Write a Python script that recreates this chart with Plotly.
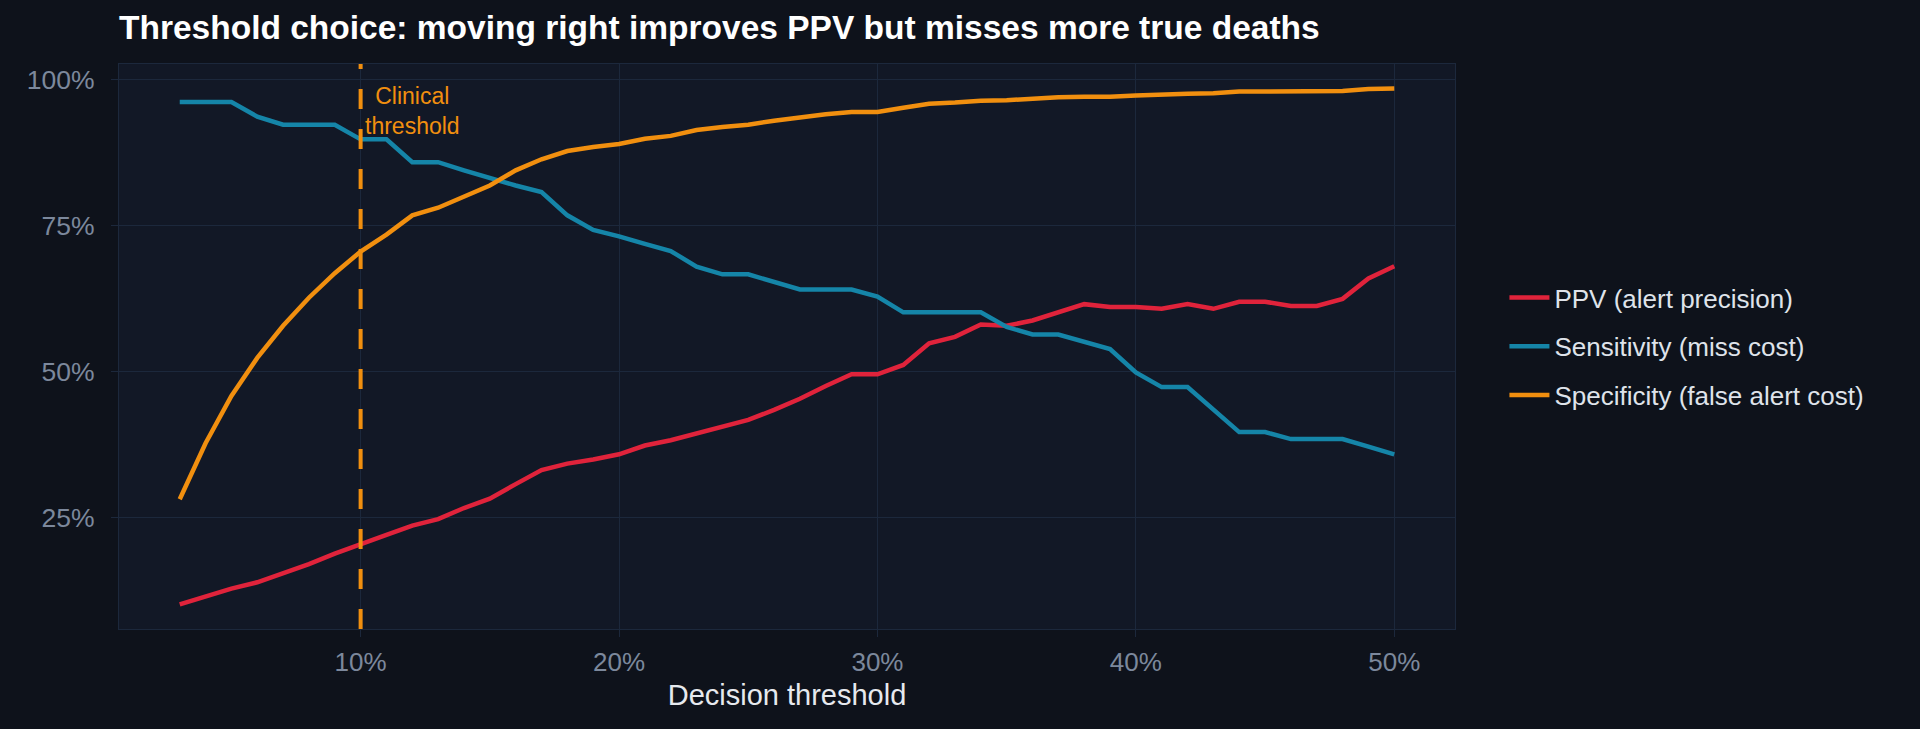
import plotly.graph_objects as go

thresholds = list(range(3, 51))  # decision threshold, %
ppv = [10.2, 11.55, 12.9, 14.0, 15.5, 17.1, 18.9, 20.4, 22.1, 23.7, 24.8, 26.7, 28.3, 30.8, 33.2, 34.3,
       35.0, 35.9, 37.4, 38.3, 39.5, 40.5, 41.8, 43.5, 45.4, 47.6, 49.6, 49.6, 51.2, 54.9, 56.0, 58.1,
       57.9, 58.8, 60.3, 61.6, 61.1, 61.1, 60.8, 61.6, 60.8, 62.0, 62.0, 61.3, 61.3, 62.5, 66.0, 68.1]
sensitivity = [96.2, 96.2, 96.2, 93.7, 92.3, 92.3, 92.3, 89.8, 89.8, 85.9, 85.9, 84.5, 83.1, 81.9, 80.8, 76.8,
               74.3, 73.2, 71.9, 70.7, 68.0, 66.7, 66.7, 65.4, 64.1, 64.1, 64.1, 62.9, 60.2, 60.2, 60.2, 60.2,
               57.7, 56.4, 56.4, 55.2, 53.9, 49.9, 47.4, 47.4, 43.5, 39.7, 39.7, 38.5, 38.5, 38.5, 37.2, 35.9]
specificity = [28.2, 37.8, 45.9, 52.4, 57.9, 62.7, 66.9, 70.6, 73.5, 76.8, 78.1, 80.1, 81.9, 84.5, 86.4, 87.8,
               88.5, 89.0, 89.9, 90.4, 91.4, 91.9, 92.3, 93.0, 93.6, 94.1, 94.5, 94.5, 95.2, 95.9, 96.1, 96.4,
               96.5, 96.8, 97.0, 97.1, 97.1, 97.3, 97.5, 97.6, 97.7, 98.0, 98.0, 98.0, 98.0, 98.1, 98.4, 98.5]
series_names = ["PPV (alert precision)", "Sensitivity (miss cost)", "Specificity (false alert cost)"]
series_colors = ["#e0233b", "#1585a8", "#f18f0f"]
x_ticks = [10, 20, 30, 40, 50]
x_ticktext = ["10%", "20%", "30%", "40%", "50%"]
y_ticks = [25, 50, 75, 100]
y_ticktext = ["25%", "50%", "75%", "100%"]
clinical_threshold = 10

FONT = "Liberation Sans, Arial, sans-serif"
GRID = "#1c283c"

fig = go.Figure()
for name, vals, col in zip(series_names, [ppv, sensitivity, specificity], series_colors):
    fig.add_trace(go.Scatter(x=thresholds, y=vals, mode="lines", name=name, legendgroup=name,
                             line=dict(color=col, width=4.5)))

fig.add_shape(type="line", xref="x", yref="paper", x0=clinical_threshold, x1=clinical_threshold,
              y0=0, y1=1, line=dict(color="#f18f0f", width=4, dash="20px,20px"), layer="above")
fig.add_annotation(x=12, y=94.6, xref="x", yref="y", text="Clinical<br>threshold", showarrow=False,
                   xanchor="center", yanchor="middle", align="center",
                   font=dict(family=FONT, size=23, color="#f18f0f"))

fig.update_layout(
    width=1920, height=729,
    margin=dict(l=119, r=465, t=64, b=100),
    paper_bgcolor="#0e121b", plot_bgcolor="#121826",
    font=dict(family=FONT, color="#dfe3ea"),
    title=dict(text="<b>Threshold choice: moving right improves PPV but misses more true deaths</b>",
               x=119 / 1920, xanchor="left", xref="container", y=1 - 27 / 729, yanchor="middle",
               font=dict(family=FONT, size=33.5, color="#ffffff")),
    legend=dict(x=1.037, xanchor="left", y=0.5, yanchor="middle", bgcolor="rgba(0,0,0,0)",
                font=dict(family=FONT, size=26, color="#dfe3ea"), tracegroupgap=12, itemwidth=40),
    showlegend=True,
)
fig.update_xaxes(range=[0.65, 52.35], tickvals=x_ticks, ticktext=x_ticktext, showgrid=True,
                 gridcolor=GRID, gridwidth=1.3, zeroline=False, showline=True, mirror=True,
                 linecolor=GRID, linewidth=1.3, ticks="outside", ticklen=7, tickcolor=GRID,
                 tickwidth=1.3, ticklabelstandoff=3,
                 tickfont=dict(family=FONT, size=26, color="#7c889c"),
                 title=dict(text="Decision threshold", standoff=8,
                            font=dict(family=FONT, size=29, color="#e6e9ee")))
fig.update_yaxes(range=[6.0, 102.7], tickvals=y_ticks, ticktext=y_ticktext, showgrid=True,
                 gridcolor=GRID, gridwidth=1.3, zeroline=False, showline=True, mirror=True,
                 linecolor=GRID, linewidth=1.3, ticks="outside", ticklen=7, tickcolor=GRID,
                 tickwidth=1.3, ticklabelstandoff=11,
                 tickfont=dict(family=FONT, size=26.5, color="#7c889c"))

fig.write_html("out.html", config={"displayModeBar": False},
               post_script="document.body.style.margin='0';document.body.style.background='#0e121b';")
